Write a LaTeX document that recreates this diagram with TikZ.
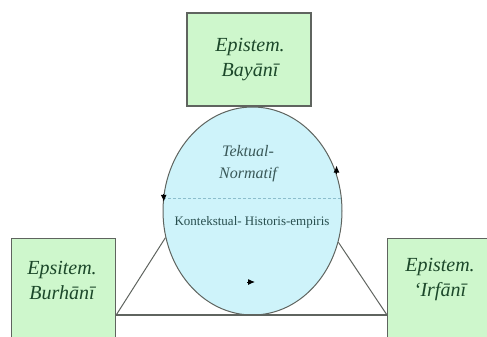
\documentclass[tikz,border=0pt]{standalone}
\usepackage{fontspec}
\setmainfont{Liberation Serif}
\usetikzlibrary{arrows.meta,shapes.geometric}
\definecolor{boxgreen}{RGB}{206,247,204}
\definecolor{cyan2}{RGB}{206,243,250}
\definecolor{textgreen}{RGB}{28,72,42}
\definecolor{textteal}{RGB}{40,78,78}
\definecolor{gray2}{RGB}{95,100,95}
\definecolor{dashblue}{RGB}{140,190,205}
\tikzset{
  epibox/.style={draw=gray2, line width=1.2pt, fill=boxgreen, inner sep=0pt},
  epitext/.style={font=\fontsize{20}{25}\selectfont\itshape, text=textgreen, align=center},
}

\begin{document}
\begin{tikzpicture}[x=1pt,y=-1pt,>={Latex[length=7pt,width=6pt]}]
\useasboundingbox (0,0) rectangle (487,337);
\clip (0,0) rectangle (487,337);
	\newcommand \circX{252.5}
	\newcommand \circY{211}
	\newcommand \boxtop{238}

%% Boxes:
\node[epibox, minimum width=124pt, minimum height=93pt] (bayani) at (249,59.5) {};
\node[epitext] (bayanitext) at (250,60) {Epistem.\\Bayānī};
\node[epibox, anchor=north west, minimum width=104pt, minimum height=140pt] (burhani) at (11,\boxtop) {};
\node[epitext] (burhanitext) at (62,280) {Epsitem.\\Burhānī};
\node[epibox, anchor=north west, minimum width=106pt, minimum height=140pt] (irfani) at (387,\boxtop) {};
\node[epitext] (irfanitext) at (440,280) {Epistem.\\‘Irfānī};

%% Circle:
\node[ellipse, draw=gray2, line width=1pt, fill=cyan2, minimum width=179pt, minimum height=208pt, inner sep=0pt] (cyc) at (\circX,\circY) {};
\draw[dashblue, densely dashed, line width=1pt] (cyc.172) -- (cyc.8);
\node[font=\fontsize{16}{22}\selectfont\itshape, text=textteal!80!gray, align=center] (tekstual) at (248,164) {Tektual-\\Normatif};
\node[font=\fontsize{13}{15}\selectfont, text=textteal] (kontekstual) at (252,222) {Kontekstual- Historis-empiris};

%% Triangle:
\coordinate (tl) at (burhani.east |- 0,315);
\coordinate (tr) at (irfani.west |- 0,315);
\draw[gray2, line width=1pt] (tl) -- (cyc.197) (tr) -- (cyc.-20);
\draw[gray2, line width=1.2pt] (tl) -- (tr);

%% Arrows:
\draw[->, line width=1pt] (cyc.169) -- ++(0,8);
\draw[->, line width=1pt] (cyc.24) -- ++(0,-8);
\draw[->, line width=1pt] (247,282) -- ++(8,0);

\end{tikzpicture}
\end{document}
